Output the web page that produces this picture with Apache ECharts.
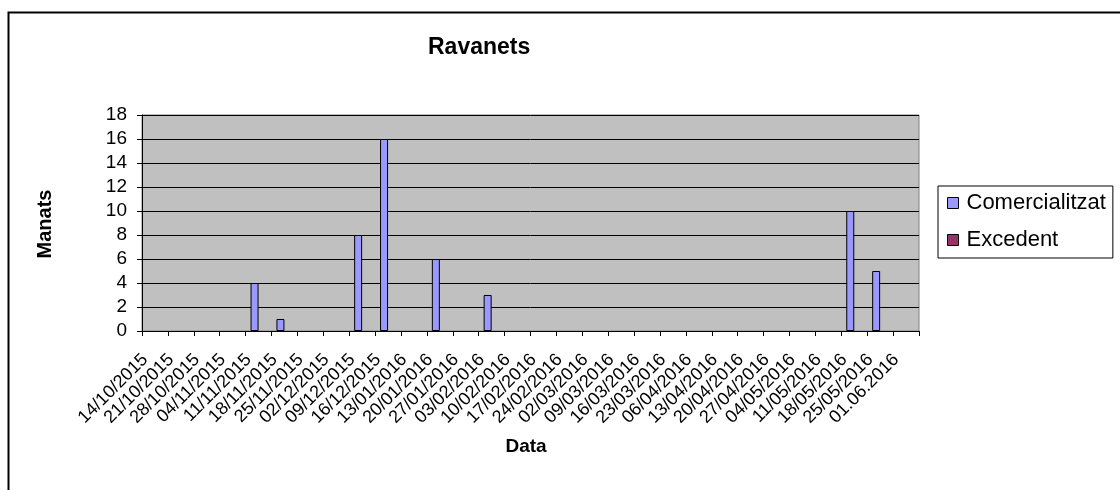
<!DOCTYPE html>
<html>
<head>
<meta charset="utf-8">
<script src="https://cdn.jsdelivr.net/npm/echarts@6/dist/echarts.min.js"></script>
<style>
html,body{margin:0;padding:0;background:#fff;}
#chart{width:1120px;height:490px;}
</style>
</head>
<body>
<div id="chart"></div>
<script>
const categories = ['14/10/2015','21/10/2015','28/10/2015','04/11/2015','11/11/2015','18/11/2015','25/11/2015','02/12/2015','09/12/2015','16/12/2015','13/01/2016','20/01/2016','27/01/2016','03/02/2016','10/02/2016','17/02/2016','24/02/2016','02/03/2016','09/03/2016','16/03/2016','23/03/2016','06/04/2016','13/04/2016','20/04/2016','27/04/2016','04/05/2016','11/05/2016','18/05/2016','25/05/2016','01.06.2016'];
const comercialitzat = [null,null,null,null,4,1,null,null,8,16,null,6,null,3,null,null,null,null,null,null,null,null,null,null,null,null,null,10,5,null];
const excedent = [null,null,null,null,null,null,null,null,null,null,null,null,null,null,null,null,null,null,null,null,null,null,null,null,null,null,null,null,null,null];
const yTicks = [0,2,4,6,8,10,12,14,16,18];

const FONT = "'Liberation Sans', Arial, sans-serif";
const chart = echarts.init(document.getElementById('chart'), null, {renderer:'canvas'});
chart.setOption({
  animation: false,
  backgroundColor: '#ffffff',
  textStyle: {fontFamily: FONT},
  title: {
    text: 'Ravanets',
    left: 428, top: 36, padding: 0,
    textStyle: {fontFamily: FONT, fontSize: 23, fontWeight: 'bold', color: '#000'}
  },
  legend: {
    left: 938, top: 186,
    orient: 'vertical',
    data: ['Comercialitzat','Excedent'],
    icon: 'rect',
    itemWidth: 11, itemHeight: 11,
    itemGap: 15,
    borderColor: '#000', borderWidth: 1,
    padding: [6, 7, 7, 9],
    textStyle: {fontFamily: FONT, fontSize: 22, color: '#000', lineHeight: 22, padding: [0,0,0,3]},
    itemStyle: {borderColor: '#000', borderWidth: 1}
  },
  grid: {
    left: 142, top: 115, width: 777, height: 216,
    show: true, backgroundColor: '#C0C0C0', borderColor: '#808080', borderWidth: 1
  },
  xAxis: {
    type: 'category',
    data: categories,
    axisLine: {show: true, lineStyle: {color: '#000', width: 1}},
    axisTick: {show: true, length: 5, lineStyle: {color: '#000'}},
    axisLabel: {interval: 0, rotate: 45, fontSize: 18, color: '#000', margin: 16, padding: [0, 14, 0, 0], fontFamily: FONT},
    splitLine: {show: false}
  },
  yAxis: {
    type: 'value',
    min: yTicks[0], max: yTicks[yTicks.length-1], interval: 2,
    axisLine: {show: true, lineStyle: {color: '#000', width: 1}},
    axisTick: {show: true, length: 5, lineStyle: {color: '#000'}},
    axisLabel: {fontSize: 19, color: '#000', margin: 15, fontFamily: FONT},
    splitLine: {show: true, lineStyle: {color: '#000', width: 1}}
  },
  series: [
    {
      name: 'Comercialitzat', type: 'bar', data: comercialitzat,
      barWidth: 8, barGap: '0%',
      itemStyle: {color: '#9999FF', borderColor: '#000', borderWidth: 1}
    },
    {
      name: 'Excedent', type: 'bar', data: excedent,
      barWidth: 8, barGap: '0%',
      itemStyle: {color: '#993366', borderColor: '#000', borderWidth: 1}
    }
  ],
  graphic: [
    {type: 'rect', left: 6, top: 10, shape: {x:0, y:0, width: 1200, height: 600},
     style: {fill: 'none', stroke: '#000', lineWidth: 2}, silent: true, z: 100},
    {type: 'text', x: 45, y: 224, rotation: Math.PI/2,
     style: {text: 'Manats', font: "bold 20px 'Liberation Sans', Arial", fill: '#000', align: 'center', verticalAlign: 'middle'}},
    {type: 'text', x: 526, y: 447,
     style: {text: 'Data', font: "bold 19px 'Liberation Sans', Arial", fill: '#000', align: 'center', verticalAlign: 'middle'}}
  ]
});
</script>
</body>
</html>
